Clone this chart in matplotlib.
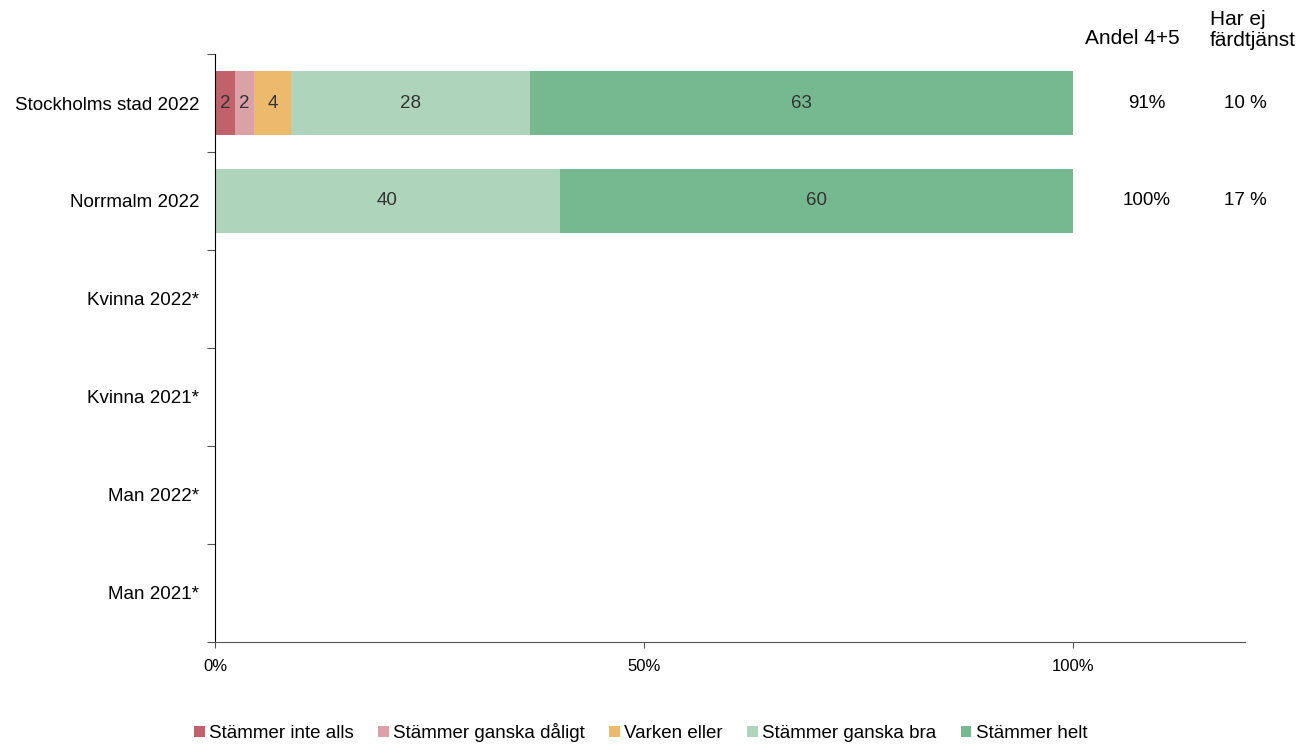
import matplotlib.pyplot as plt
import numpy as np

plt.rcParams['font.family'] = ['Liberation Sans', 'DejaVu Sans']

# data
categories = ["Stockholms stad 2022", "Norrmalm 2022", "Kvinna 2022*", "Kvinna 2021*", "Man 2022*", "Man 2021*"]
series_names = ["Stämmer inte alls", "Stämmer ganska dåligt", "Varken eller", "Stämmer ganska bra", "Stämmer helt"]
inte_alls = [2.3, 0, 0, 0, 0, 0]
ganska_daligt = [2.2, 0, 0, 0, 0, 0]
varken = [4.4, 0, 0, 0, 0, 0]
ganska_bra = [27.8, 40.2, 0, 0, 0, 0]
helt = [63.3, 59.8, 0, 0, 0, 0]
andel_45 = ["91%", "100%", "", "", "", ""]
har_ej = ["10 %", "17 %", "", "", "", ""]

colors = ["#C1616B", "#DAA1A7", "#EDBA6D", "#AED5BB", "#76B990"]

fig = plt.figure(figsize=(13.08, 7.47), dpi=100)
ax = fig.add_axes([0.1644, 0.1406, 0.7874, 0.7871])

y = np.arange(len(categories))
left = np.zeros(len(categories))
for name, vals, c in zip(series_names, [inte_alls, ganska_daligt, varken, ganska_bra, helt], colors):
    vals = np.array(vals, dtype=float)
    bars = ax.barh(y, vals, left=left, height=0.66, color=c, label=name, edgecolor='none')
    for b, v in zip(bars, vals):
        if v > 0:
            ax.text(b.get_x() + b.get_width() / 2, b.get_y() + b.get_height() / 2,
                    f"{round(v):.0f}", ha='center', va='center', fontsize=13.5, color='#333333')
    left += vals

ax.set_xlim(0, 120)
ax.set_ylim(len(categories) - 0.5, -0.5)
ax.set_xticks([0, 50, 100])
ax.set_xticklabels(["0%", "50%", "100%"], fontsize=12)

# category labels between boundary ticks
ax.set_yticks(np.arange(len(categories) + 1) - 0.5)
ax.set_yticklabels([])
ax.set_yticks(y, minor=True)
ax.set_yticklabels(categories, minor=True, fontsize=13.5)
ax.tick_params(axis='y', which='minor', length=0, pad=11.5)
ax.tick_params(axis='y', which='major', length=6, color='#555555')
ax.tick_params(axis='x', length=4, color='#555555', pad=8)

for s in ['top', 'right']:
    ax.spines[s].set_visible(False)
ax.spines['left'].set_color('black')
ax.spines['bottom'].set_color('#555555')

# side columns
ax.text(106.9, -0.565, "Andel 4+5", ha='center', va='bottom', fontsize=15)
ax.text(115.9, -0.54, "Har ej\nfärdtjänst", ha='left', va='bottom', fontsize=15,
        linespacing=1.15, multialignment='left')
for i in range(len(categories)):
    ax.text(108.6, i, andel_45[i], ha='center', va='center', fontsize=13.5)
    ax.text(120.0, i, har_ej[i], ha='center', va='center', fontsize=13.5)

fig.legend(loc='center', bbox_to_anchor=(0.49, 0.019), ncol=5, frameon=False,
           fontsize=13.5, handlelength=0.55, handleheight=0.55, handletextpad=0.25, columnspacing=1.3)

fig.savefig("out.png", dpi=100)
